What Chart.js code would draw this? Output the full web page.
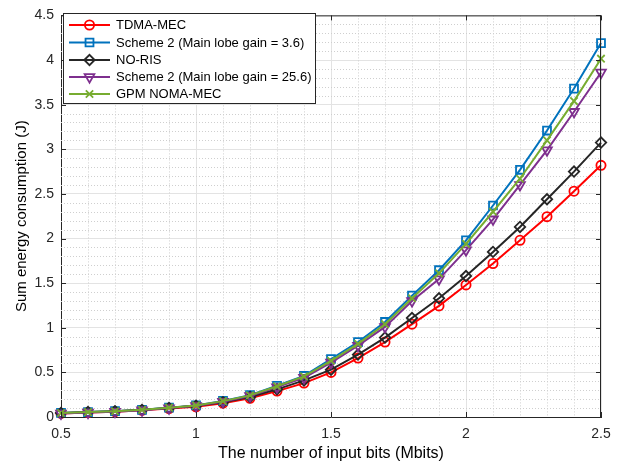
<!DOCTYPE html>
<html><head><meta charset="utf-8">
<script src="https://cdn.jsdelivr.net/npm/chart.js@4.4.1/dist/chart.umd.min.js"></script>
<style>html,body{margin:0;padding:0;background:#fff}#wrap{width:627px;height:466px;position:relative}</style>
</head><body><div id="wrap"><canvas id="c" width="627" height="466"></canvas></div>
<script>
const xValues = [0.5,0.6,0.7,0.8,0.9,1.0,1.1,1.2,1.3,1.4,1.5,1.6,1.7,1.8,1.9,2.0,2.1,2.2,2.3,2.4,2.5];
const tdmaMec   = [0.04,0.05,0.06,0.075,0.095,0.115,0.155,0.21,0.29,0.38,0.50,0.66,0.84,1.04,1.245,1.48,1.72,1.98,2.245,2.53,2.82];
const scheme2g36 = [0.045,0.055,0.065,0.08,0.105,0.13,0.18,0.245,0.35,0.46,0.65,0.84,1.065,1.36,1.645,1.98,2.37,2.77,3.21,3.68,4.19];
const noRis     = [0.045,0.055,0.065,0.08,0.10,0.125,0.165,0.225,0.31,0.41,0.53,0.70,0.89,1.11,1.33,1.58,1.85,2.13,2.44,2.75,3.075];
const scheme2g256 = [0.04,0.05,0.06,0.075,0.10,0.125,0.172,0.235,0.335,0.44,0.61,0.80,1.01,1.30,1.545,1.87,2.215,2.60,2.99,3.42,3.86];
const gpmNoma   = [0.045,0.055,0.065,0.08,0.105,0.13,0.178,0.242,0.345,0.455,0.63,0.82,1.04,1.33,1.61,1.94,2.30,2.67,3.10,3.54,4.015];
const seriesNames = ["TDMA-MEC","Scheme 2 (Main lobe gain = 3.6)","NO-RIS","Scheme 2 (Main lobe gain = 25.6)","GPM NOMA-MEC"];
const xLabel = "The number of input bits (Mbits)";
const yLabel = "Sum energy consumption (J)";

const FONT = "'Liberation Sans', Arial, sans-serif";
const AX = '#262626';
const styles = [
  {color:'#ff0000', point:'circle', r:4.6, rot:0},
  {color:'#0072bd', point:'rect', r:5.6, rot:0},
  {color:'#262626', point:'rectRot', r:5.2, rot:0},
  {color:'#7e2f8e', point:'triangle', r:5.6, rot:180},
  {color:'#77ac30', point:'crossRot', r:5.2, rot:0}
];
const seriesData = [tdmaMec, scheme2g36, noRis, scheme2g256, gpmNoma];

const datasets = seriesData.map((arr,i)=>({
  label: seriesNames[i],
  data: xValues.map((x,j)=>({x:x,y:arr[j]})),
  borderColor: styles[i].color,
  backgroundColor: 'rgba(0,0,0,0)',
  borderWidth: 2,
  pointStyle: styles[i].point,
  pointRadius: styles[i].r,
  pointRotation: styles[i].rot,
  pointBorderWidth: 1.8,
  pointBorderColor: styles[i].color,
  pointBackgroundColor: 'rgba(0,0,0,0)',
  tension: 0,
  clip: false,
  order: 5 - i
}));

function drawMarker(ctx, style, x, y, r, rot) {
  ctx.beginPath();
  if (style === 'circle') { ctx.arc(x, y, r, 0, Math.PI*2); }
  else if (style === 'rect') { const s = r*Math.SQRT1_2; ctx.rect(x-s, y-s, 2*s, 2*s); }
  else if (style === 'rectRot') { ctx.moveTo(x-r,y); ctx.lineTo(x,y-r); ctx.lineTo(x+r,y); ctx.lineTo(x,y+r); ctx.closePath(); }
  else if (style === 'triangle') {
    const a = rot*Math.PI/180;
    for (let k=0;k<3;k++){ const t = a - Math.PI/2 + k*2*Math.PI/3; const px=x+Math.cos(t)*r, py=y+Math.sin(t)*r; k?ctx.lineTo(px,py):ctx.moveTo(px,py);} ctx.closePath();
  }
  else if (style === 'crossRot') { const d=r*Math.SQRT1_2; ctx.moveTo(x-d,y-d); ctx.lineTo(x+d,y+d); ctx.moveTo(x-d,y+d); ctx.lineTo(x+d,y-d); }
  ctx.stroke();
}

const framePlugin = {
  id: 'frame',
  beforeDatasetsDraw(chart) {
    const {ctx, chartArea:a, scales:{x, y}} = chart;
    ctx.save();
    ctx.strokeStyle = '#cfcfcf'; ctx.lineWidth = 1; ctx.setLineDash([1,2]);
    for (let k=5;k<=25;k++){ if (k%5===0) continue; const px=Math.round(x.getPixelForValue(k/10))+0.5; ctx.beginPath(); ctx.moveTo(px,a.top); ctx.lineTo(px,a.bottom); ctx.stroke(); }
    for (let k=0;k<=45;k++){ if (k%5===0) continue; const py=Math.round(y.getPixelForValue(k/10))+0.5; ctx.beginPath(); ctx.moveTo(a.left,py); ctx.lineTo(a.right,py); ctx.stroke(); }
    ctx.restore();
  },
  afterDraw(chart) {
    const {ctx, chartArea:a, scales:{x, y}} = chart;
    ctx.save();
    ctx.strokeStyle = AX; ctx.lineWidth = 1;
    ctx.beginPath();
    ctx.moveTo(a.left, a.top+0.5); ctx.lineTo(a.right, a.top+0.5);
    ctx.moveTo(a.right-0.5, a.top); ctx.lineTo(a.right-0.5, a.bottom);
    x.ticks.forEach(t=>{ const px=Math.round(x.getPixelForValue(t.value))+0.5; ctx.moveTo(px,a.bottom); ctx.lineTo(px,a.bottom-5); ctx.moveTo(px,a.top); ctx.lineTo(px,a.top+5); });
    y.ticks.forEach(t=>{ const py=Math.round(y.getPixelForValue(t.value))+0.5; ctx.moveTo(a.left,py); ctx.lineTo(a.left+5,py); ctx.moveTo(a.right,py); ctx.lineTo(a.right-5,py); });
    ctx.stroke();
    // legend
    const bx=63.5, by=13.5, bw=252, bh=90;
    ctx.fillStyle='#fff'; ctx.fillRect(bx,by,bw,bh);
    ctx.strokeStyle=AX; ctx.strokeRect(bx,by,bw,bh);
    const rows=[25,42.5,60,77,94];
    ctx.font = '13px ' + FONT; ctx.textBaseline='middle'; ctx.textAlign='left';
    chart.data.datasets.forEach((ds,i)=>{
      const yy=rows[i];
      ctx.strokeStyle=ds.borderColor; ctx.lineWidth=2;
      ctx.beginPath(); ctx.moveTo(69,yy); ctx.lineTo(110,yy); ctx.stroke();
      ctx.lineWidth=1.8;
      drawMarker(ctx, styles[i].point, 89.5, yy, styles[i].r, styles[i].rot);
      ctx.fillStyle='#000'; ctx.fillText(ds.label, 116, yy+0.5);
    });
    ctx.restore();
  }
};

new Chart(document.getElementById('c'), {
  type: 'line',
  data: { datasets },
  options: {
    responsive: false, animation: false, devicePixelRatio: 1,
    layout: { padding: { top: 11, right: 26, left: 0, bottom: 0 } },
    plugins: { legend: { display: false }, tooltip: { enabled: false } },
    scales: {
      x: {
        type: 'linear', min: 0.5, max: 2.5,
        ticks: { stepSize: 0.5, color: AX, font: { family: FONT, size: 14 }, padding: 9, maxRotation: 0, callback: v => String(v) },
        grid: { color: '#e3e3e3', drawTicks: false },
        border: { display: true, color: AX, width: 1 },
        title: { display: true, text: xLabel, color: '#000', font: { family: FONT, size: 16 }, padding: { top: 1, bottom: 3 } },
        afterFit: s => { s.height = 49; }
      },
      y: {
        type: 'linear', min: 0, max: 4.5,
        ticks: { stepSize: 0.5, color: AX, font: { family: FONT, size: 14 }, padding: 7, callback: v => String(v) },
        grid: { color: '#e3e3e3', drawTicks: false },
        border: { display: true, color: AX, width: 1 },
        title: { display: true, text: yLabel, color: '#000', font: { family: FONT, size: 15 }, padding: { top: 13, bottom: 0 } },
        afterFit: s => { s.width = 61; }
      }
    }
  },
  plugins: [framePlugin]
});
</script>
</body></html>
